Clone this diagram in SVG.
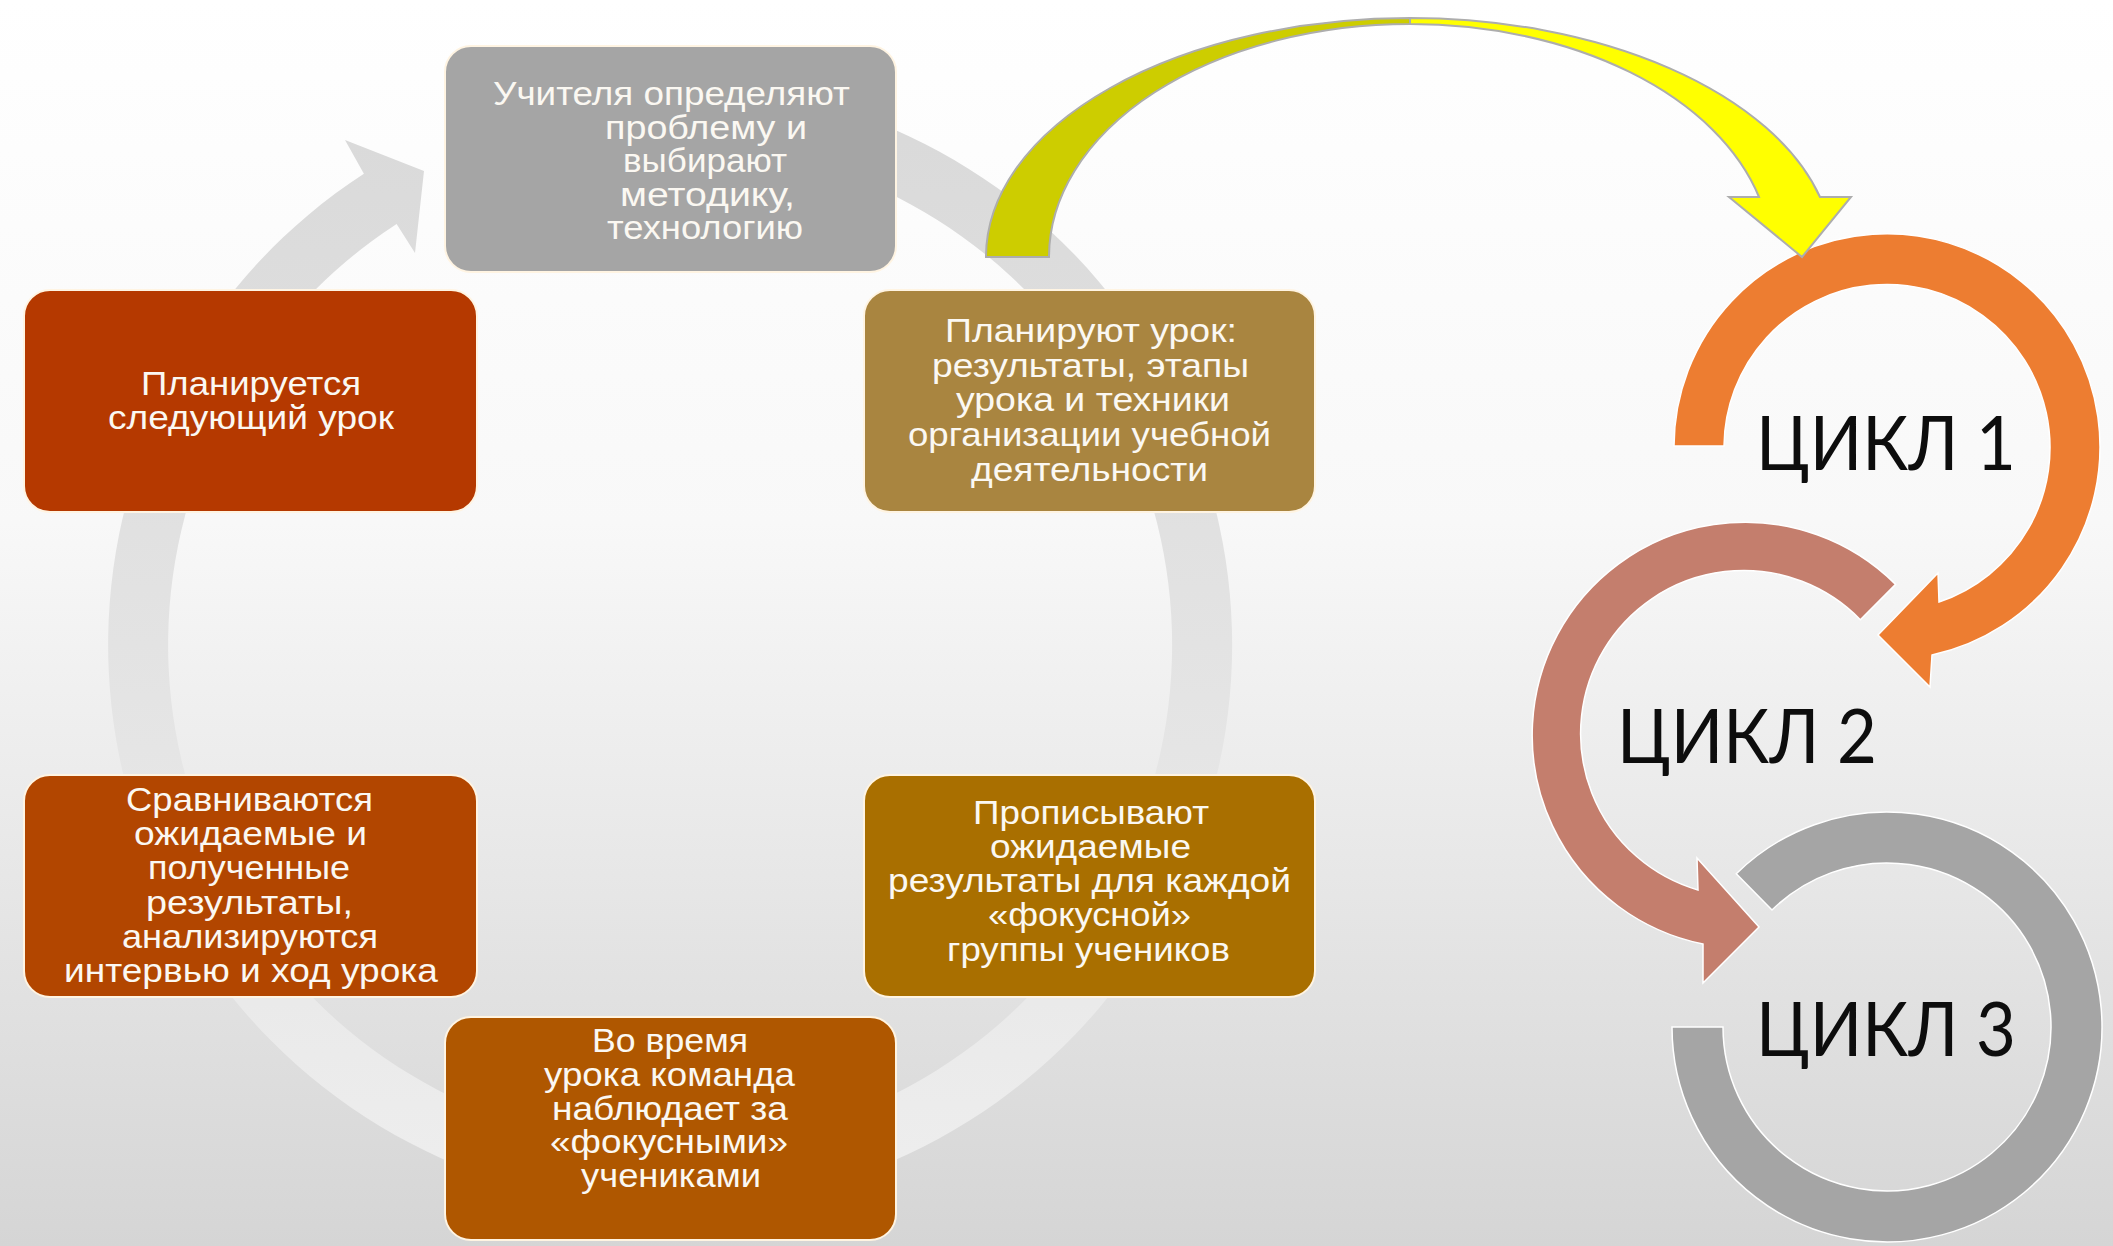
<svg xmlns="http://www.w3.org/2000/svg" width="2113" height="1246" viewBox="0 0 2113 1246">
<defs>
  <linearGradient id="bg" x1="0" y1="0" x2="0" y2="1">
    <stop offset="0" stop-color="#FFFFFF"/>
    <stop offset="0.42" stop-color="#F8F8F8"/>
    <stop offset="1" stop-color="#D5D5D5"/>
  </linearGradient>
  <linearGradient id="ringGrad" gradientUnits="userSpaceOnUse" x1="0" y1="83" x2="0" y2="1207">
    <stop offset="0" stop-color="#D9D9D9"/>
    <stop offset="0.5" stop-color="#E3E3E3"/>
    <stop offset="1" stop-color="#EEEEEE"/>
  </linearGradient>
  <style>
    .box { stroke: #FFF4E2; stroke-width: 2; }
    .bt { font-family: "Liberation Sans", Arial, sans-serif; font-size: 33px; fill: #FBF8F2; }
    .cyc { font-family: Lato, "Open Sans", sans-serif; font-size: 75px; fill: #0D0D0D; }
    .ring { stroke: #FFFFFF; stroke-width: 1.5; stroke-linejoin: miter; }
    .yarrow { stroke: #ADADAD; stroke-width: 2; stroke-linejoin: miter; }
  </style>
</defs>

<rect x="0" y="0" width="2113" height="1246" fill="url(#bg)"/>

<g id="cycle3">
  <path class="ring" fill="#A5A5A5" d="M 1672 1027 A 215 215 0 1 0 1736.3 873.7 L 1772 910 A 164 164 0 1 1 1723 1027 Z"/>
  <text class="cyc" x="1756" y="1056" textLength="260" lengthAdjust="spacingAndGlyphs">ЦИКЛ 3</text>
</g>
<g id="cycle2">
  <path class="ring" fill="#C47E6D" d="M 1895.6 584.4 A 213 213 0 1 0 1703 944 L 1703 983 L 1759 927 L 1697 858 L 1698 890 A 163 163 0 1 1 1860.3 619.7 Z"/>
  <text class="cyc" x="1617" y="763" textLength="260" lengthAdjust="spacingAndGlyphs">ЦИКЛ 2</text>
</g>
<g id="cycle1">
  <path class="ring" fill="#ED7D31" d="M 1674 446 A 213 213 0 1 1 1932 655 L 1930 687 L 1878 635 L 1938 573 L 1939 602 A 163 163 0 1 0 1724 446 Z"/>
  <text class="cyc" x="1756" y="470" textLength="260" lengthAdjust="spacingAndGlyphs">ЦИКЛ 1</text>
</g>

<g id="connectors">
  <path id="cycle-ring" fill="url(#ringGrad)" d="M 572.4 91.5 A 562 562 0 1 1 363.9 173.7 L 345 140 L 424 171 L 415 253 L 396.6 224 A 502 502 0 1 0 582.8 150.6 Z"/>
  <g id="yellow-arrow">
    <path class="yarrow" fill="#CDCD00" d="M 986 257 A 424 239 0 0 1 1410 18 L 1410 24 A 361 233 0 0 0 1049 257 Z"/>
    <path class="yarrow" fill="#FFFF00" d="M 1410 18 A 424 239 0 0 1 1820 197 L 1851 197 L 1802 257 L 1729 197 L 1759 197 A 361 233 0 0 0 1410 24 Z"/>
  </g>
</g>

<g id="node-define">
  <rect class="box" x="445" y="46" width="451" height="226" rx="26" fill="#A5A5A5"/>
  <text class="bt" x="493" y="105" textLength="357" lengthAdjust="spacingAndGlyphs">Учителя определяют</text>
  <text class="bt" x="605" y="138.5" textLength="202" lengthAdjust="spacingAndGlyphs">проблему и</text>
  <text class="bt" x="623" y="172" textLength="164" lengthAdjust="spacingAndGlyphs">выбирают</text>
  <text class="bt" x="620" y="205.5" textLength="175" lengthAdjust="spacingAndGlyphs">методику,</text>
  <text class="bt" x="607" y="239" textLength="196" lengthAdjust="spacingAndGlyphs">технологию</text>
</g>

<g id="node-plan">
  <rect class="box" x="864" y="290" width="451" height="222" rx="26" fill="#A98540"/>
  <text class="bt" x="945" y="342" textLength="292" lengthAdjust="spacingAndGlyphs">Планируют урок:</text>
  <text class="bt" x="932" y="377" textLength="317" lengthAdjust="spacingAndGlyphs">результаты, этапы</text>
  <text class="bt" x="956" y="411" textLength="274" lengthAdjust="spacingAndGlyphs">урока и техники</text>
  <text class="bt" x="908" y="446" textLength="363" lengthAdjust="spacingAndGlyphs">организации учебной</text>
  <text class="bt" x="971" y="481" textLength="237" lengthAdjust="spacingAndGlyphs">деятельности</text>
</g>

<g id="node-expected">
  <rect class="box" x="864" y="775" width="451" height="222" rx="26" fill="#A96F00"/>
  <text class="bt" x="973" y="824" textLength="236" lengthAdjust="spacingAndGlyphs">Прописывают</text>
  <text class="bt" x="990" y="858" textLength="201" lengthAdjust="spacingAndGlyphs">ожидаемые</text>
  <text class="bt" x="888" y="892" textLength="403" lengthAdjust="spacingAndGlyphs">результаты для каждой</text>
  <text class="bt" x="988" y="926" textLength="203" lengthAdjust="spacingAndGlyphs">«фокусной»</text>
  <text class="bt" x="947" y="961" textLength="283" lengthAdjust="spacingAndGlyphs">группы учеников</text>
</g>

<g id="node-observe">
  <rect class="box" x="445" y="1017" width="451" height="223" rx="26" fill="#AF5700"/>
  <text class="bt" x="592" y="1052" textLength="156" lengthAdjust="spacingAndGlyphs">Во время</text>
  <text class="bt" x="544" y="1086" textLength="251" lengthAdjust="spacingAndGlyphs">урока команда</text>
  <text class="bt" x="552" y="1120" textLength="236" lengthAdjust="spacingAndGlyphs">наблюдает за</text>
  <text class="bt" x="550" y="1153" textLength="238" lengthAdjust="spacingAndGlyphs">«фокусными»</text>
  <text class="bt" x="581" y="1187" textLength="180" lengthAdjust="spacingAndGlyphs">учениками</text>
</g>

<g id="node-compare">
  <rect class="box" x="24" y="775" width="453" height="222" rx="26" fill="#B24600"/>
  <text class="bt" x="126" y="811" textLength="247" lengthAdjust="spacingAndGlyphs">Сравниваются</text>
  <text class="bt" x="134" y="845" textLength="233" lengthAdjust="spacingAndGlyphs">ожидаемые и</text>
  <text class="bt" x="148" y="879" textLength="202" lengthAdjust="spacingAndGlyphs">полученные</text>
  <text class="bt" x="146" y="914" textLength="207" lengthAdjust="spacingAndGlyphs">результаты,</text>
  <text class="bt" x="122" y="948" textLength="256" lengthAdjust="spacingAndGlyphs">анализируются</text>
  <text class="bt" x="64" y="982" textLength="374" lengthAdjust="spacingAndGlyphs">интервью и ход урока</text>
</g>

<g id="node-next">
  <rect class="box" x="24" y="290" width="453" height="222" rx="26" fill="#B53900"/>
  <text class="bt" x="141" y="395" textLength="220" lengthAdjust="spacingAndGlyphs">Планируется</text>
  <text class="bt" x="108" y="429" textLength="286" lengthAdjust="spacingAndGlyphs">следующий урок</text>
</g>
</svg>
